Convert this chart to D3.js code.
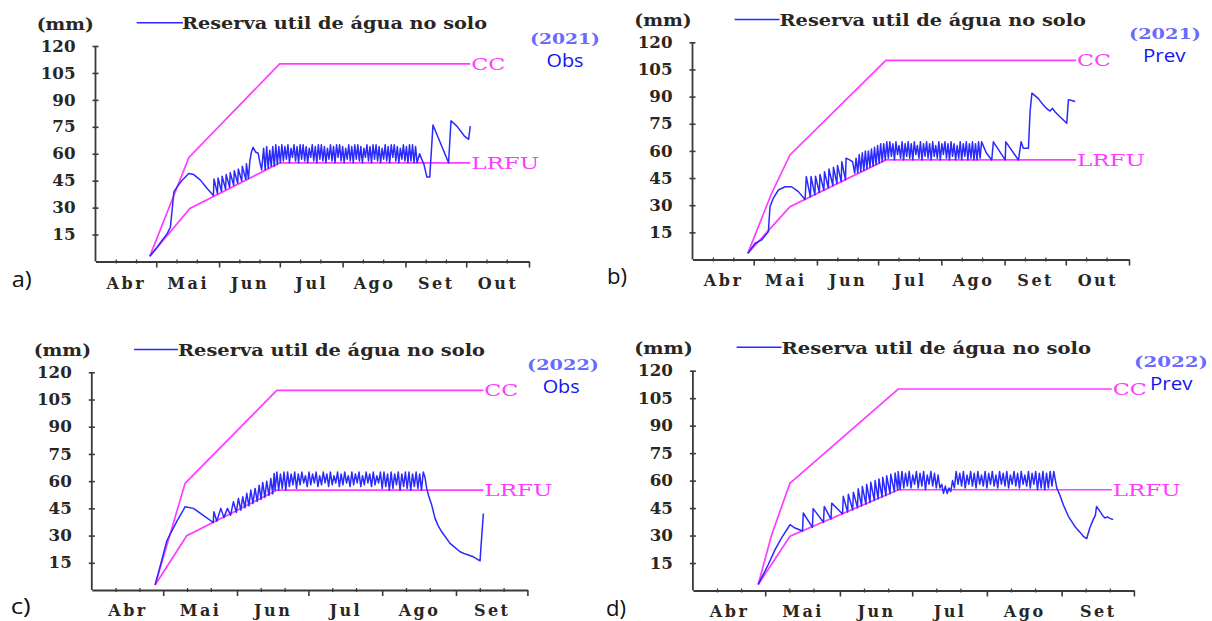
<!DOCTYPE html>
<html><head><meta charset="utf-8">
<script src="https://cdn.jsdelivr.net/npm/d3@7"></script>
<style>
html,body{margin:0;padding:0;background:#fff;}
svg{display:block;}
</style></head>
<body><svg id="chart" width="1212" height="621"></svg>
<script>
// ---------------- data ----------------
const monthsLong = ["Abr","Mai","Jun","Jul","Ago","Set","Out"];
const monthsShort = ["Abr","Mai","Jun","Jul","Ago","Set"];
const monthStarts = [0,30,61,91,122,153,183,214];   // day index (0 = 1 Abr)
const yTickValues = [15,30,45,60,75,90,105,120];
const legendText = "Reserva util de água no solo";
const yUnit = "(mm)";
const denseStepDays = 0.75;   // sampling step of the dense (oscillating) stretch

// (a) 2021 Obs
const ccA   = [[26.8,2.9],[46.1,57.9],[90.9,110],[185,110]];
const lrfuA = [[26.8,2.9],[46.6,29.5],[90.9,54.9],[185,54.9]];
const headA = [[26.8,2.9],[30.5,8.1],[33,12],[35.4,15.5],[37,19.2],[38.7,38.8],[40.3,41.6],[42.8,45.3],[46,49],[48.5,48.4],
  [51.8,45.3],[55.1,40.6],[58.2,36.8],[58.5,46],[60.2,37.8],[60.5,46.5],[62.2,39],[62.5,47.5],[64.2,40.2],[64.5,48.5],
  [66.2,41.3],[66.5,49.5],[68.2,42.5],[68.5,50.5],[70.2,43.6],[70.5,51.5],[72.2,44.8],[72.5,53],[74.2,45.6],[74.5,54.5],
  [75.5,46.2],[76.2,56],[77,61],[77.8,63.6],[79,61],[80.3,60.3],[81,56],[82,51]];
const denseStartA = 83;
const denseA = [63,51,64,52,62,53,64,53,65,54,64,
  55,65,56,64,57,65,55,63,58,65, 56,64,55,65,57,65,56,64,55,63, 58,65,56,64,55,65,57,65,56,64,
  55,63,57,65,56,64,55,65,58,65, 56,64,55,63,57,65,56,64,55,65, 57,65,56,64,55,63,58,65,56,64,
  55,65,57,65,56,64,55,63,57,65, 56,64,55,65,58,65,56,64,55,63, 57,65,56,64,55,65,56,65,55,64, 55];
const tailA = [[160,60],[161,57],[162,54.6],[163.6,47],[165,47],[166.6,76],[174.3,55],[175.5,78.4],[178.4,75.4],[182,70],[184.2,68],[185,75.4]];

// (b) 2021 Prev
const ccB   = [[27.1,3.4],[38.8,36.6],[47.8,57.8],[94.8,110],[188,110]];
const lrfuB = [[27.1,3.4],[47.8,29.2],[94.8,55],[188,55]];
const headB = [[27.1,3.4],[30.7,9],[33.9,10.8],[37.2,15.4],[38,29.2],[39.6,33.8],[42.1,38.4],[45.4,40.2],[48.6,40.2],[51.9,37.5],
  [55.2,33.2],[55.8,45.8],[57.8,34.5],[58.1,45.8],[60,35.7],[60.3,46],[62.2,37],[62.5,47],[64.4,38.2],[64.7,48.5],
  [66.6,39.5],[66.9,50],[68.8,40.8],[69.1,51],[70.8,42],[71.1,52],[72.9,43],[73.2,54],[75,44],[75.3,56],[77,55],[78.5,54],[79.5,47.7],[80.2,56]];
const denseStartB = 81;
const denseB = [48,58,48.5,59,49.2,60,50,60,51,61,51.6,62,52.4,63,53.2,64,54,64,55,65,
  56,65,57,64,55,65,58,63,56,65, 55,64,57,65,56,64,55,65,58,63, 56,65,55,64,57,65,56,64,55,65,
  57,63,56,65,55,64,58,65,56,64, 55,65,57,64,55,63,56,65,55,64, 57,65,55,64,56,65,55,64,55,65, 56,65];
const tailB = [[144,59],[146.7,55],[147.5,65],[153.3,55],[153.6,65],[159.8,55],[161.1,65],[162.2,61.5],[164.7,61.5],[165.5,81.7],
  [166.4,91.9],[169.6,88.9],[171.5,86],[173.7,83.3],[175.3,82],[176.5,83.5],[177.8,81.5],[180,79],[183.5,75.3],[184.3,88.2],[185.5,88],[187.6,87.3]];

// (c) 2022 Obs
const ccC   = [[26.6,2.8],[39.2,58.8],[40.5,60.6],[77.7,110],[164.5,110]];
const lrfuC = [[26.6,2.8],[39.9,29.9],[77.7,55],[164.5,55]];
const headC = [[26.6,2.8],[28.5,12],[30.5,22],[31.5,27],[33,31],[34.2,34],[36,38.5],[38,43],[39.2,45.9],[42.7,45],[47,41],[51,37.2],
  [51.3,43.2],[52.5,37.9],[54.2,45],[55.5,39.9],[57,45],[58.3,41.2],[59.5,48.7],[60.7,42.8],[61.6,50.5],[62.6,44],[63.4,51.4],
  [64.3,45.3],[65.1,53.3],[66,46.4],[66.8,55.1],[67.7,47.7],[68.6,56],[69.5,48.8],[70.3,57.8],[71.1,49.9],[71.8,59.3],[72.7,51],
  [73.5,60],[74.4,52.1],[75.2,61.5],[76,53],[76.6,64.2]];
const denseStartC = 77;
const denseC = [55,65,55,64,56,65,55,65,57,64,58,65,56,
  64,58,65,59,63,57,65,58,64,59, 65,57,63,58,65,59,64,57,65,58, 63,59,65,57,64,58,65,59,63,57,
  65,58,64,59,65,57,63,58,65,59, 64,57,65,58,63,59,65,
  56,65,57,64,55,65,56,64,58,65, 55,64,57,65,56,65,55,64,57,65, 56,64,55,65,62];
const tailC = [[140.7,56],[141.5,52],[142.8,46.8],[144.2,39.5],[145.5,35.5],[147,32.1],[150.5,25.7],[152.5,23.5],[154.7,21.1],
  [157,19.8],[160.3,18.3],[163.1,16],[163.4,22],[164,33],[164.5,42.2]];

// (d) 2022 Prev
const ccD   = [[27.1,3.3],[32.7,30.5],[40.3,58.7],[42,60.5],[85.2,110],[173.8,110]];
const lrfuD = [[27.1,3.3],[40.3,29.6],[85.2,55],[173.8,55]];
const headD = [[27.1,3.3],[31.3,14.2],[34.1,22.3],[36.8,28.7],[40.3,35.9],[42.4,34.1],[45.5,32.5],[45.8,42.3],[49.6,34.5],[49.9,44.7],
  [54.2,37.3],[54.5,45.9],[57.3,39],[57.6,47.7],[62.1,41.8],[62.4,51.4],[64.2,42.8],[64.5,52.6],[66.3,44],[66.6,53.7],[68.3,45.1],
  [68.6,55.5],[70,46.1],[70.3,56.8],[71.8,47.1],[72.1,58],[73.5,48],[73.8,59.1],[75.3,49.1],[75.6,60],[76.9,50],[77.2,60.9],
  [78.5,50.9],[78.8,61.8],[80.1,51.8],[80.4,62.7],[81.8,52.8],[82.1,63.5],[83.6,53.8],[83.9,64.2],[85,54.9],[85.2,64.9]];
const denseStartD = 86;
const denseD = [55,65,56,64,57,65,56,63,58,65,56,64,57,65,55,63,58,65,57,64,56,63,
  56,58,53,57,53,56,54,60,
  56,65,58,64,57,65,56,63,58,65, 57,64,56,65,58,63,57,65,56,64, 58,65,57,63,56,65,58,64,57,65,
  56,63,58,65,57,64,56,65,58,63, 57,65,56,64,58,65,55,64,56,65, 55,64,56,65,57,65];
const tailD = [[151,55.9],[152.3,52],[153.7,46.8],[155.8,40.5],[158.5,35],[160.5,32],[162,29.6],[163.4,28.3],[164.7,34.1],
  [166.1,38.7],[167,41],[167.5,45.9],[168.5,44],[170,41],[171,39.6],[172,40.2],[173,39.4],[174.4,38.7]];

// ---------------- layout ----------------
const panels = [
  {letter:"a)", year:"(2021)", kind:"Obs", months:monthsLong, cc:ccA, lrfu:lrfuA, head:headA, dStart:denseStartA, dense:denseA, tail:tailA,
   box:{left:95.5,right:529,bottom:261.5,top:46},
   unit:{x:36.7,y:29.5,w:57}, leg:{x1:136.7,x2:183,y:22.7}, title:{x:182,y:29,w:305},
   yr:{x:530,y:43.5,w:70}, kd:{x:546.5,y:67,w:37}, lt:{x:11.7,y:287}, mlab:21.5},
  {letter:"b)", year:"(2021)", kind:"Prev", months:monthsLong, cc:ccB, lrfu:lrfuB, head:headB, dStart:denseStartB, dense:denseB, tail:tailB,
   box:{left:692.5,right:1129,bottom:259.5,top:42.3},
   unit:{x:634.3,y:26,w:57.4}, leg:{x1:734.6,x2:779.5,y:19.5}, title:{x:779.5,y:26,w:306.5},
   yr:{x:1129,y:39,w:72}, kd:{x:1143,y:62,w:42.5}, lt:{x:607,y:284}, mlab:21},
  {letter:"c)", year:"(2022)", kind:"Obs", months:monthsShort, cc:ccC, lrfu:lrfuC, head:headC, dStart:denseStartC, dense:denseC, tail:tailC,
   box:{left:91.8,right:527.4,bottom:590,top:372.3},
   unit:{x:33.7,y:356,w:57.3}, leg:{x1:134,x2:178,y:349.5}, title:{x:178,y:356,w:307},
   yr:{x:527,y:369.5,w:72}, kd:{x:542.7,y:392.5,w:37}, lt:{x:10.7,y:614}, mlab:20.5},
  {letter:"d)", year:"(2022)", kind:"Prev", months:monthsShort, cc:ccD, lrfu:lrfuD, head:headD, dStart:denseStartD, dense:denseD, tail:tailD,
   box:{left:692.9,right:1133.9,bottom:590.5,top:370.7},
   unit:{x:634.3,y:353.5,w:58.6}, leg:{x1:736.6,x2:781.5,y:347.3}, title:{x:781.5,y:353.5,w:309.5},
   yr:{x:1134,y:366.5,w:74}, kd:{x:1150,y:389.5,w:42.5}, lt:{x:606,y:616}, mlab:21}
];

const SERIF = "'DejaVu Serif', 'Liberation Serif', serif";
const SANS = "'Open Sans', 'Noto Sans', sans-serif";
const TXT = "#2a2622";
const PINK = "#ff3cff";
const BLUE = "#2a2aff";
const AX = "#3a3a3a";

const svg = d3.select("#chart");

panels.forEach(p => {
  const g = svg.append("g");
  const nDays = monthStarts[p.months.length];
  const x = d3.scaleLinear().domain([0, nDays]).range([p.box.left, p.box.right]);
  const y = d3.scaleLinear().domain([0, 120]).range([p.box.bottom, p.box.top]);

  // y axis
  const ya = g.append("g").attr("transform", `translate(${p.box.left},0)`)
    .call(d3.axisLeft(y).tickValues(yTickValues).tickSize(3).tickSizeOuter(0).tickPadding(17).tickFormat(d3.format("d")));
  ya.select(".domain").attr("stroke", AX).attr("stroke-width", 1.8).attr("d", `M0,${y(0)}V${y(120)}`);
  ya.selectAll(".tick line").attr("x1", 3).attr("stroke", AX).attr("stroke-width", 1.6);
  ya.selectAll(".tick text").attr("font-family", SERIF).attr("font-weight", "bold").attr("font-size", 16)
    .attr("fill", TXT).attr("textLength", d => String(d).length * 11.6).attr("lengthAdjust", "spacingAndGlyphs");

  // x axis: major ticks
  const xa = g.append("g").attr("transform", `translate(0,${p.box.bottom})`)
    .call(d3.axisBottom(x).tickValues(monthStarts.slice(1, p.months.length + 1)).tickSize(6).tickSizeOuter(0).tickFormat(""));
  xa.select(".domain").attr("stroke", AX).attr("stroke-width", 1.8);
  xa.selectAll(".tick line").attr("stroke", AX).attr("stroke-width", 1.6);
  // minor ticks (dekads)
  const minor = [];
  for (let i = 0; i < p.months.length; i++) { minor.push(monthStarts[i] + 10, monthStarts[i] + 20); }
  const xm = g.append("g").attr("transform", `translate(0,${p.box.bottom})`)
    .call(d3.axisBottom(x).tickValues(minor).tickSize(3).tickSizeOuter(0).tickFormat(""));
  xm.select(".domain").remove();
  xm.selectAll(".tick line").attr("stroke", AX).attr("stroke-width", 1.3).attr("y1", -2).attr("y2", 2);
  // month labels centred in each month
  const mids = p.months.map((m, i) => (monthStarts[i] + monthStarts[i + 1]) / 2);
  const xl = g.append("g").attr("transform", `translate(0,${p.box.bottom})`)
    .call(d3.axisBottom(x).tickValues(mids).tickSize(0).tickPadding(0).tickFormat((d, i) => p.months[i]));
  xl.select(".domain").remove();
  xl.selectAll(".tick text").attr("y", p.mlab).attr("dy", "0.35em").attr("font-family", SERIF).attr("font-weight", "bold")
    .attr("font-size", 16).attr("letter-spacing", "2.5px").attr("fill", TXT);

  // lines
  const line = d3.line().x(d => x(d[0])).y(d => y(d[1]));
  g.append("path").attr("d", line(p.cc)).attr("fill", "none").attr("stroke", PINK).attr("stroke-width", 1.7);
  g.append("path").attr("d", line(p.lrfu)).attr("fill", "none").attr("stroke", PINK).attr("stroke-width", 1.7);
  const blue = p.head.concat(p.dense.map((v, i) => [p.dStart + i * denseStepDays, v])).concat(p.tail);
  g.append("path").attr("d", line(blue)).attr("fill", "none").attr("stroke", BLUE).attr("stroke-width", 1.5)
    .attr("stroke-linejoin", "round");

  // CC / LRFU labels at line ends
  const ccEnd = p.cc[p.cc.length - 1], lrEnd = p.lrfu[p.lrfu.length - 1];
  g.append("text").attr("x", x(ccEnd[0]) + 1).attr("y", y(ccEnd[1])).attr("dy", "0.36em").text("CC")
    .attr("font-family", SERIF).attr("font-size", 16).attr("fill", PINK)
    .attr("textLength", 34).attr("lengthAdjust", "spacingAndGlyphs");
  g.append("text").attr("x", x(lrEnd[0]) + 1).attr("y", y(lrEnd[1])).attr("dy", "0.36em").text("LRFU")
    .attr("font-family", SERIF).attr("font-size", 16).attr("fill", PINK)
    .attr("textLength", 68).attr("lengthAdjust", "spacingAndGlyphs");

  // unit label & legend
  g.append("text").attr("x", p.unit.x).attr("y", p.unit.y).text(yUnit)
    .attr("font-family", SERIF).attr("font-weight", "bold").attr("font-size", 16).attr("fill", TXT)
    .attr("textLength", p.unit.w).attr("lengthAdjust", "spacingAndGlyphs");
  g.append("line").attr("x1", p.leg.x1).attr("x2", p.leg.x2).attr("y1", p.leg.y).attr("y2", p.leg.y)
    .attr("stroke", BLUE).attr("stroke-width", 1.6);
  g.append("text").attr("x", p.title.x).attr("y", p.title.y).text(legendText)
    .attr("font-family", SERIF).attr("font-weight", "bold").attr("font-size", 16.5).attr("fill", TXT)
    .attr("textLength", p.title.w).attr("lengthAdjust", "spacingAndGlyphs");

  // year and kind
  g.append("text").attr("x", p.yr.x).attr("y", p.yr.y).text(p.year)
    .attr("font-family", SERIF).attr("font-weight", "bold").attr("font-size", 15).attr("fill", "#6a6aff")
    .attr("textLength", p.yr.w).attr("lengthAdjust", "spacingAndGlyphs");
  g.append("text").attr("x", p.kd.x).attr("y", p.kd.y).text(p.kind)
    .attr("font-family", SANS).attr("font-size", 18).attr("fill", "#1414f0")
    .attr("textLength", p.kd.w).attr("lengthAdjust", "spacingAndGlyphs");

  // panel letter
  g.append("text").attr("x", p.lt.x).attr("y", p.lt.y).text(p.letter)
    .attr("font-family", SANS).attr("font-size", 21).attr("fill", "#111")
    .attr("textLength", 20).attr("lengthAdjust", "spacingAndGlyphs");
});
</script>
</body></html>
